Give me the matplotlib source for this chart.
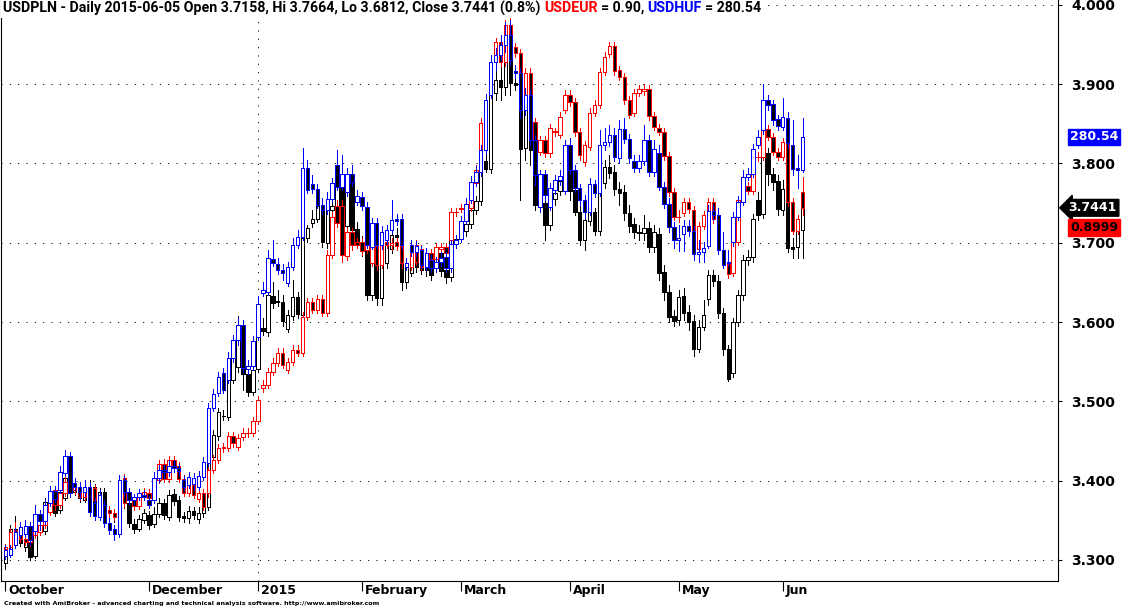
import matplotlib
matplotlib.use("Agg")
import matplotlib.pyplot as plt
import matplotlib.transforms as mtransforms
from matplotlib.patches import Rectangle
import numpy as np
import pandas as pd

# USDPLN daily, 2014-10-21 .. 2015-06-05
pln_open = [
    3.296, 3.312, 3.339, 3.336, 3.316, 3.322, 3.305, 3.338, 3.336, 3.370,
    3.375, 3.363, 3.378, 3.403, 3.386, 3.392, 3.376, 3.387, 3.392, 3.370,
    3.386, 3.361, 3.359, 3.354, 3.388, 3.372, 3.345, 3.339, 3.350, 3.356,
    3.345, 3.358, 3.372, 3.354, 3.383, 3.375, 3.355, 3.353, 3.361, 3.351,
    3.359, 3.367, 3.430, 3.456, 3.482, 3.480, 3.527, 3.543, 3.587, 3.534,
    3.512, 3.541, 3.592, 3.587, 3.633, 3.625, 3.625, 3.591, 3.608, 3.632,
    3.609, 3.706, 3.725, 3.730, 3.748, 3.700, 3.741, 3.746, 3.772, 3.721,
    3.782, 3.717, 3.701, 3.690, 3.634, 3.675, 3.630, 3.675, 3.692, 3.710,
    3.707, 3.650, 3.662, 3.691, 3.685, 3.670, 3.678, 3.668, 3.687, 3.666,
    3.657, 3.705, 3.706, 3.715, 3.724, 3.741, 3.753, 3.803, 3.793, 3.889,
    3.905, 3.897, 3.952, 3.902, 3.899, 3.820, 3.869, 3.817, 3.748, 3.750,
    3.722, 3.755, 3.765, 3.778, 3.793, 3.767, 3.739, 3.703, 3.728, 3.739,
    3.715, 3.775, 3.796, 3.789, 3.768, 3.764, 3.738, 3.724, 3.714, 3.712,
    3.719, 3.695, 3.711, 3.663, 3.638, 3.608, 3.603, 3.633, 3.613, 3.601,
    3.566, 3.594, 3.629, 3.659, 3.652, 3.611, 3.566, 3.536, 3.600, 3.634,
    3.678, 3.682, 3.754, 3.736, 3.813, 3.787, 3.778, 3.741, 3.768, 3.695,
    3.695, 3.7158,
]
pln_high = [
    3.319, 3.344, 3.355, 3.344, 3.327, 3.327, 3.340, 3.350, 3.378, 3.383,
    3.380, 3.391, 3.413, 3.413, 3.398, 3.397, 3.394, 3.401, 3.396, 3.391,
    3.391, 3.368, 3.363, 3.393, 3.394, 3.375, 3.351, 3.356, 3.364, 3.361,
    3.366, 3.378, 3.377, 3.388, 3.389, 3.380, 3.360, 3.368, 3.367, 3.366,
    3.380, 3.436, 3.464, 3.492, 3.489, 3.533, 3.562, 3.608, 3.595, 3.542,
    3.546, 3.586, 3.605, 3.640, 3.650, 3.640, 3.634, 3.615, 3.653, 3.638,
    3.729, 3.722, 3.741, 3.754, 3.754, 3.760, 3.754, 3.779, 3.782, 3.772,
    3.792, 3.726, 3.709, 3.696, 3.683, 3.681, 3.681, 3.703, 3.716, 3.719,
    3.714, 3.676, 3.697, 3.696, 3.691, 3.676, 3.685, 3.691, 3.693, 3.672,
    3.711, 3.710, 3.726, 3.729, 3.748, 3.759, 3.811, 3.817, 3.895, 3.918,
    3.928, 3.962, 3.979, 3.912, 3.905, 3.880, 3.880, 3.830, 3.760, 3.757,
    3.763, 3.769, 3.785, 3.804, 3.798, 3.773, 3.748, 3.735, 3.747, 3.744,
    3.782, 3.804, 3.811, 3.798, 3.777, 3.773, 3.748, 3.731, 3.722, 3.735,
    3.726, 3.722, 3.719, 3.672, 3.647, 3.615, 3.640, 3.643, 3.622, 3.609,
    3.603, 3.628, 3.666, 3.666, 3.659, 3.618, 3.571, 3.605, 3.640, 3.685,
    3.691, 3.736, 3.764, 3.823, 3.820, 3.794, 3.785, 3.779, 3.798, 3.706,
    3.726, 3.7664,
]
pln_low = [
    3.288, 3.310, 3.330, 3.317, 3.311, 3.300, 3.302, 3.331, 3.332, 3.367,
    3.355, 3.359, 3.375, 3.380, 3.382, 3.373, 3.373, 3.383, 3.358, 3.367,
    3.341, 3.354, 3.348, 3.350, 3.365, 3.341, 3.334, 3.336, 3.346, 3.339,
    3.341, 3.354, 3.351, 3.350, 3.369, 3.349, 3.348, 3.346, 3.351, 3.346,
    3.354, 3.363, 3.426, 3.451, 3.476, 3.476, 3.523, 3.537, 3.514, 3.507,
    3.508, 3.537, 3.584, 3.582, 3.618, 3.620, 3.595, 3.587, 3.603, 3.605,
    3.603, 3.701, 3.720, 3.726, 3.695, 3.693, 3.736, 3.721, 3.681, 3.714,
    3.710, 3.696, 3.683, 3.628, 3.628, 3.621, 3.621, 3.668, 3.687, 3.701,
    3.640, 3.643, 3.658, 3.663, 3.661, 3.658, 3.653, 3.663, 3.658, 3.649,
    3.652, 3.693, 3.701, 3.709, 3.719, 3.736, 3.748, 3.789, 3.788, 3.880,
    3.880, 3.886, 3.886, 3.893, 3.754, 3.804, 3.798, 3.741, 3.741, 3.703,
    3.716, 3.748, 3.760, 3.773, 3.754, 3.735, 3.697, 3.691, 3.722, 3.710,
    3.710, 3.769, 3.782, 3.760, 3.748, 3.729, 3.714, 3.706, 3.703, 3.703,
    3.688, 3.688, 3.653, 3.628, 3.600, 3.595, 3.596, 3.603, 3.590, 3.557,
    3.562, 3.590, 3.621, 3.645, 3.605, 3.558, 3.526, 3.531, 3.595, 3.628,
    3.672, 3.676, 3.729, 3.731, 3.773, 3.767, 3.735, 3.735, 3.688, 3.681,
    3.681, 3.6812,
]
pln_close = [
    3.314, 3.339, 3.334, 3.321, 3.322, 3.303, 3.335, 3.341, 3.373, 3.376,
    3.359, 3.386, 3.403, 3.384, 3.392, 3.378, 3.389, 3.392, 3.363, 3.386,
    3.346, 3.359, 3.354, 3.387, 3.372, 3.346, 3.339, 3.351, 3.359, 3.344,
    3.358, 3.372, 3.356, 3.382, 3.374, 3.354, 3.353, 3.361, 3.356, 3.359,
    3.375, 3.430, 3.457, 3.487, 3.481, 3.527, 3.555, 3.590, 3.534, 3.512,
    3.539, 3.581, 3.589, 3.634, 3.624, 3.626, 3.601, 3.609, 3.632, 3.610,
    3.706, 3.719, 3.730, 3.746, 3.701, 3.753, 3.746, 3.772, 3.688, 3.764,
    3.716, 3.701, 3.690, 3.634, 3.675, 3.630, 3.672, 3.697, 3.710, 3.707,
    3.650, 3.669, 3.691, 3.669, 3.666, 3.665, 3.659, 3.686, 3.664, 3.657,
    3.705, 3.702, 3.716, 3.724, 3.741, 3.753, 3.803, 3.793, 3.889, 3.905,
    3.897, 3.952, 3.902, 3.899, 3.818, 3.869, 3.817, 3.748, 3.751, 3.722,
    3.755, 3.763, 3.778, 3.793, 3.765, 3.739, 3.703, 3.729, 3.740, 3.715,
    3.776, 3.795, 3.788, 3.768, 3.763, 3.738, 3.721, 3.714, 3.712, 3.719,
    3.695, 3.714, 3.662, 3.638, 3.606, 3.601, 3.632, 3.611, 3.600, 3.566,
    3.594, 3.609, 3.659, 3.652, 3.611, 3.566, 3.528, 3.600, 3.634, 3.678,
    3.682, 3.730, 3.735, 3.813, 3.787, 3.777, 3.743, 3.768, 3.693, 3.692,
    3.716, 3.7441,
]

# USDEUR overlay
eur_open = [
    0.7924, 0.7930, 0.7984, 0.7975, 0.7955, 0.7946, 0.7968, 0.7978, 0.7999, 0.8040,
    0.8110, 0.8063, 0.8101, 0.8135, 0.8110, 0.8120, 0.8088, 0.8104, 0.8117, 0.8079,
    0.8063, 0.8047, 0.8037, 0.8110, 0.8148, 0.8104, 0.8085, 0.8060, 0.8091, 0.8101,
    0.8085, 0.8142, 0.8192, 0.8145, 0.8205, 0.8186, 0.8145, 0.8101, 0.8126, 0.8082,
    0.8101, 0.8101, 0.8173, 0.8205, 0.8243, 0.8243, 0.8280, 0.8246, 0.8277, 0.8291,
    0.8290, 0.8328, 0.8432, 0.8441, 0.8482, 0.8511, 0.8542, 0.8489, 0.8514, 0.8552,
    0.8542, 0.8656, 0.8703, 0.8678, 0.8713, 0.8668, 0.8852, 0.9006, 0.9006, 0.8848,
    0.8924, 0.8892, 0.8892, 0.8867, 0.8826, 0.8880, 0.8820, 0.8892, 0.8883, 0.8892,
    0.8880, 0.8814, 0.8814, 0.8883, 0.8870, 0.8820, 0.8858, 0.8839, 0.8870, 0.8877,
    0.8899, 0.8988, 0.8998, 0.8999, 0.8999, 0.9078, 0.9151, 0.9277, 0.9362, 0.9460,
    0.9523, 0.9460, 0.9577, 0.9508, 0.9489, 0.9312, 0.9425, 0.9271, 0.9176, 0.9214,
    0.9173, 0.9241, 0.9230, 0.9309, 0.9356, 0.9334, 0.9240, 0.9145, 0.9192, 0.9299,
    0.9325, 0.9429, 0.9486, 0.9511, 0.9435, 0.9413, 0.9340, 0.9299, 0.9362, 0.9369,
    0.9375, 0.9290, 0.9252, 0.9240, 0.9164, 0.9050, 0.8972, 0.8984, 0.9018, 0.8993,
    0.8870, 0.8943, 0.8977, 0.9018, 0.8965, 0.8867, 0.8823, 0.8795, 0.8892, 0.9025,
    0.9069, 0.9053, 0.9160, 0.9161, 0.9249, 0.9224, 0.9176, 0.9161, 0.9208, 0.9018,
    0.8927, 0.9050,
]
eur_high = [
    0.7939, 0.7990, 0.8009, 0.7987, 0.7965, 0.7978, 0.8003, 0.8015, 0.8053, 0.8085,
    0.8123, 0.8117, 0.8154, 0.8148, 0.8132, 0.8129, 0.8117, 0.8129, 0.8126, 0.8094,
    0.8079, 0.8060, 0.8050, 0.8154, 0.8161, 0.8117, 0.8098, 0.8107, 0.8117, 0.8113,
    0.8154, 0.8205, 0.8208, 0.8217, 0.8217, 0.8198, 0.8157, 0.8139, 0.8142, 0.8113,
    0.8113, 0.8186, 0.8220, 0.8255, 0.8258, 0.8293, 0.8293, 0.8287, 0.8306, 0.8306,
    0.8340, 0.8407, 0.8457, 0.8495, 0.8527, 0.8558, 0.8558, 0.8527, 0.8567, 0.8567,
    0.8672, 0.8716, 0.8716, 0.8725, 0.8725, 0.8867, 0.8987, 0.9025, 0.9025, 0.8937,
    0.8937, 0.8905, 0.8905, 0.8899, 0.8899, 0.8899, 0.8905, 0.8905, 0.8905, 0.8905,
    0.8892, 0.8842, 0.8899, 0.8899, 0.8883, 0.8870, 0.8870, 0.8889, 0.8889, 0.8889,
    0.8999, 0.8999, 0.9012, 0.9012, 0.9094, 0.9135, 0.9284, 0.9293, 0.9422, 0.9536,
    0.9536, 0.9593, 0.9599, 0.9520, 0.9501, 0.9441, 0.9441, 0.9284, 0.9227, 0.9227,
    0.9265, 0.9252, 0.9302, 0.9372, 0.9372, 0.9347, 0.9252, 0.9211, 0.9315, 0.9340,
    0.9441, 0.9492, 0.9523, 0.9523, 0.9448, 0.9426, 0.9353, 0.9375, 0.9388, 0.9391,
    0.9388, 0.9302, 0.9265, 0.9252, 0.9176, 0.9063, 0.8993, 0.9031, 0.9031, 0.9006,
    0.8955, 0.8990, 0.9031, 0.9031, 0.8977, 0.8880, 0.8836, 0.8905, 0.9037, 0.9082,
    0.9082, 0.9151, 0.9176, 0.9265, 0.9261, 0.9236, 0.9189, 0.9221, 0.9221, 0.9031,
    0.8977, 0.9097,
]
eur_low = [
    0.7915, 0.7924, 0.7959, 0.7946, 0.7936, 0.7933, 0.7959, 0.7968, 0.7990, 0.8031,
    0.8047, 0.8053, 0.8091, 0.8094, 0.8098, 0.8079, 0.8079, 0.8091, 0.8066, 0.8047,
    0.8041, 0.8025, 0.8015, 0.8098, 0.8056, 0.8069, 0.8047, 0.8050, 0.8082, 0.8072,
    0.8075, 0.8132, 0.8135, 0.8135, 0.8173, 0.8135, 0.8091, 0.8091, 0.8085, 0.8072,
    0.8047, 0.8088, 0.8164, 0.8195, 0.8230, 0.8233, 0.8246, 0.8236, 0.8268, 0.8277,
    0.8280, 0.8318, 0.8420, 0.8432, 0.8473, 0.8501, 0.8495, 0.8479, 0.8505, 0.8533,
    0.8533, 0.8646, 0.8668, 0.8668, 0.8659, 0.8659, 0.8842, 0.8940, 0.8829, 0.8836,
    0.8867, 0.8873, 0.8852, 0.8858, 0.8817, 0.8804, 0.8810, 0.8873, 0.8867, 0.8867,
    0.8810, 0.8804, 0.8804, 0.8820, 0.8804, 0.8810, 0.8829, 0.8829, 0.8861, 0.8848,
    0.8886, 0.8974, 0.8987, 0.8987, 0.8990, 0.9069, 0.9142, 0.9255, 0.9353, 0.9448,
    0.9448, 0.9448, 0.9508, 0.9476, 0.9353, 0.9302, 0.9299, 0.9167, 0.9167, 0.9161,
    0.9161, 0.9227, 0.9220, 0.9299, 0.9321, 0.9227, 0.9151, 0.9132, 0.9183, 0.9290,
    0.9315, 0.9419, 0.9476, 0.9419, 0.9403, 0.9328, 0.9284, 0.9290, 0.9353, 0.9356,
    0.9277, 0.9246, 0.9230, 0.9151, 0.9037, 0.8962, 0.8955, 0.8974, 0.8984, 0.8861,
    0.8861, 0.8933, 0.8968, 0.8952, 0.8855, 0.8810, 0.8779, 0.8785, 0.8883, 0.9015,
    0.9044, 0.9044, 0.9148, 0.9151, 0.9214, 0.9167, 0.9151, 0.9151, 0.9006, 0.8918,
    0.8918, 0.8977,
]
eur_close = [
    0.7930, 0.7978, 0.7975, 0.7955, 0.7946, 0.7968, 0.7990, 0.7999, 0.8040, 0.8069,
    0.8063, 0.8101, 0.8135, 0.8110, 0.8120, 0.8088, 0.8104, 0.8117, 0.8079, 0.8060,
    0.8053, 0.8037, 0.8025, 0.8139, 0.8069, 0.8082, 0.8060, 0.8094, 0.8104, 0.8085,
    0.8142, 0.8192, 0.8145, 0.8205, 0.8186, 0.8145, 0.8101, 0.8126, 0.8094, 0.8101,
    0.8056, 0.8173, 0.8205, 0.8243, 0.8246, 0.8280, 0.8258, 0.8274, 0.8290, 0.8289,
    0.8328, 0.8394, 0.8441, 0.8482, 0.8511, 0.8542, 0.8505, 0.8514, 0.8552, 0.8542,
    0.8656, 0.8703, 0.8678, 0.8713, 0.8668, 0.8852, 0.8971, 0.8952, 0.8852, 0.8924,
    0.8883, 0.8883, 0.8864, 0.8883, 0.8880, 0.8820, 0.8889, 0.8883, 0.8889, 0.8880,
    0.8826, 0.8826, 0.8883, 0.8829, 0.8814, 0.8858, 0.8839, 0.8877, 0.8877, 0.8858,
    0.8987, 0.8986, 0.9000, 0.9002, 0.9078, 0.9120, 0.9268, 0.9268, 0.9407, 0.9523,
    0.9460, 0.9577, 0.9520, 0.9489, 0.9366, 0.9425, 0.9312, 0.9183, 0.9214, 0.9173,
    0.9252, 0.9239, 0.9287, 0.9356, 0.9334, 0.9240, 0.9167, 0.9198, 0.9299, 0.9325,
    0.9429, 0.9476, 0.9511, 0.9432, 0.9413, 0.9340, 0.9293, 0.9362, 0.9375, 0.9376,
    0.9290, 0.9255, 0.9240, 0.9164, 0.9050, 0.8971, 0.8970, 0.9018, 0.8996, 0.8870,
    0.8943, 0.8977, 0.9018, 0.8965, 0.8867, 0.8823, 0.8792, 0.8892, 0.9025, 0.9069,
    0.9053, 0.9135, 0.9162, 0.9249, 0.9224, 0.9176, 0.9161, 0.9208, 0.9018, 0.8927,
    0.8965, 0.8999,
]

# USDHUF overlay
huf_open = [
    238.29, 238.39, 239.39, 240.39, 240.49, 241.29, 240.79, 242.49, 241.79, 243.59,
    244.79, 244.89, 246.59, 248.29, 245.59, 245.19, 244.69, 245.19, 243.59, 242.19,
    243.39, 241.59, 240.99, 240.49, 245.89, 244.69, 243.89, 244.19, 244.39, 243.89,
    243.89, 246.09, 246.89, 246.69, 247.29, 247.09, 245.89, 245.39, 245.49, 245.19,
    246.19, 247.59, 253.19, 254.69, 256.69, 255.99, 258.19, 260.08, 261.58, 257.09,
    257.39, 260.38, 264.78, 264.88, 268.18, 267.68, 267.08, 265.78, 267.38, 269.68,
    270.48, 277.38, 275.78, 275.28, 273.68, 273.18, 274.28, 277.68, 275.48, 274.98,
    276.78, 273.98, 274.48, 273.48, 269.48, 271.88, 269.68, 270.18, 271.18, 272.28,
    272.28, 267.38, 269.68, 268.88, 269.08, 267.38, 268.08, 267.28, 267.88, 268.38,
    267.28, 269.78, 270.28, 272.08, 274.18, 275.98, 276.98, 279.27, 284.77, 288.07,
    288.77, 289.84, 290.84, 287.17, 286.97, 283.27, 284.77, 280.27, 273.48, 276.78,
    273.48, 275.18, 276.18, 275.08, 279.77, 277.18, 275.38, 274.18, 272.98, 275.78,
    274.88, 279.77, 280.07, 280.77, 278.37, 281.37, 280.37, 278.08, 277.38, 278.08,
    280.27, 276.98, 278.97, 275.48, 273.78, 271.48, 270.18, 270.78, 271.58, 271.08,
    268.68, 268.88, 269.58, 273.08, 272.68, 269.08, 267.78, 269.98, 272.48, 273.98,
    276.48, 276.78, 279.77, 281.27, 284.27, 283.87, 282.37, 281.57, 282.47, 279.77,
    277.38, 277.18,
]
huf_high = [
    239.39, 239.39, 241.09, 241.69, 241.89, 241.69, 243.39, 242.89, 243.89, 245.29,
    245.29, 247.29, 248.89, 248.69, 246.09, 245.69, 245.89, 245.59, 244.09, 244.89,
    243.89, 242.09, 241.39, 246.39, 246.29, 245.09, 244.49, 244.99, 244.89, 244.29,
    246.69, 247.39, 247.39, 247.89, 247.89, 247.49, 246.29, 246.69, 246.59, 246.79,
    248.19, 253.69, 255.09, 256.79, 257.19, 258.79, 260.58, 262.28, 262.08, 257.99,
    260.48, 264.48, 265.88, 269.08, 270.18, 268.28, 267.68, 267.88, 270.38, 271.18,
    279.47, 278.18, 276.68, 275.78, 274.38, 274.98, 276.38, 279.18, 278.68, 277.38,
    277.68, 275.18, 274.98, 273.98, 272.38, 272.38, 271.58, 271.68, 274.18, 272.78,
    272.78, 268.28, 270.18, 270.08, 269.58, 269.28, 268.58, 268.38, 268.88, 268.88,
    270.18, 270.68, 272.58, 274.38, 276.58, 277.58, 279.77, 284.87, 288.77, 289.54,
    290.84, 292.14, 292.34, 287.77, 287.47, 285.47, 285.27, 280.77, 277.18, 277.18,
    275.88, 276.68, 277.18, 280.27, 280.47, 277.68, 275.78, 274.68, 276.38, 276.18,
    281.27, 281.47, 281.77, 281.47, 282.27, 282.47, 280.87, 278.67, 278.67, 281.77,
    280.77, 280.27, 279.77, 275.98, 274.38, 271.98, 271.68, 272.18, 272.18, 271.58,
    270.18, 269.98, 273.68, 273.68, 273.38, 270.98, 269.08, 272.98, 274.58, 277.18,
    277.38, 279.87, 281.27, 285.87, 284.77, 284.27, 282.77, 284.47, 283.07, 282.27,
    278.68, 282.47,
]
huf_low = [
    237.89, 238.09, 239.09, 240.09, 240.19, 239.39, 240.49, 240.89, 241.49, 243.29,
    243.69, 244.59, 246.29, 244.19, 244.89, 243.99, 244.29, 242.29, 241.89, 241.89,
    241.19, 240.49, 239.89, 240.19, 244.29, 243.49, 243.49, 243.89, 243.89, 243.09,
    243.59, 245.69, 246.09, 246.29, 246.69, 246.39, 244.89, 245.09, 244.89, 244.89,
    245.89, 247.29, 252.89, 254.39, 254.69, 255.69, 257.79, 259.58, 256.79, 256.59,
    256.99, 260.08, 264.48, 264.58, 267.48, 266.68, 266.08, 265.48, 267.08, 269.38,
    270.18, 274.88, 274.88, 273.38, 272.78, 272.78, 273.98, 275.18, 275.18, 274.58,
    275.58, 273.68, 273.18, 269.28, 269.18, 269.28, 269.18, 269.78, 270.88, 271.68,
    269.18, 267.08, 268.48, 268.48, 267.28, 267.08, 266.88, 266.88, 267.48, 266.88,
    266.88, 269.38, 269.98, 271.78, 273.88, 275.58, 276.58, 278.97, 284.47, 287.27,
    288.27, 289.14, 287.77, 286.47, 282.47, 282.77, 279.77, 275.68, 272.98, 274.18,
    273.18, 274.78, 275.68, 274.78, 276.78, 274.98, 273.68, 272.38, 272.68, 274.48,
    274.58, 279.27, 279.67, 278.08, 277.88, 279.97, 277.88, 276.98, 276.98, 277.68,
    276.58, 276.58, 275.18, 273.38, 270.98, 269.38, 268.98, 268.98, 270.58, 268.08,
    267.88, 267.88, 269.28, 272.18, 268.68, 267.28, 267.48, 269.58, 272.18, 273.68,
    276.18, 276.48, 279.47, 280.87, 283.27, 281.77, 281.27, 281.27, 279.47, 276.68,
    275.38, 276.98,
]
huf_close = [
    238.89, 238.99, 240.69, 241.19, 241.29, 239.89, 242.49, 241.79, 243.39, 244.79,
    243.99, 246.69, 248.29, 244.59, 245.19, 244.69, 245.19, 242.69, 242.29, 244.39,
    241.59, 240.89, 240.49, 245.89, 244.69, 243.89, 244.19, 244.59, 244.19, 243.39,
    246.09, 246.89, 246.69, 247.29, 247.09, 246.79, 245.19, 246.19, 246.09, 246.29,
    247.69, 253.19, 254.59, 256.29, 254.99, 258.19, 260.08, 261.58, 257.19, 257.39,
    259.98, 263.68, 265.08, 268.28, 267.78, 267.08, 266.78, 267.38, 269.68, 270.48,
    277.38, 275.18, 275.28, 273.68, 273.18, 274.28, 275.88, 275.48, 276.78, 276.78,
    275.98, 274.58, 273.58, 269.68, 271.88, 269.68, 270.98, 271.18, 272.18, 272.08,
    269.68, 267.78, 268.88, 269.58, 267.58, 268.78, 267.28, 267.88, 268.28, 267.28,
    269.78, 270.18, 272.08, 273.78, 275.98, 276.98, 279.27, 284.27, 288.07, 288.77,
    289.84, 290.84, 288.27, 286.97, 283.27, 284.77, 280.27, 276.68, 276.78, 274.68,
    275.38, 276.18, 276.58, 279.77, 277.18, 275.38, 274.18, 272.98, 275.78, 274.88,
    279.77, 280.07, 280.77, 278.47, 281.37, 280.37, 278.37, 277.38, 278.08, 280.27,
    276.98, 279.37, 275.48, 273.78, 271.48, 270.18, 270.38, 271.58, 271.08, 268.68,
    268.88, 269.38, 273.08, 272.68, 269.08, 267.58, 267.88, 272.48, 273.98, 276.48,
    276.78, 279.37, 280.57, 284.27, 283.77, 282.27, 281.67, 282.57, 279.97, 277.28,
    277.18, 280.54,
]

# trading days (no bars on Dec 25 and Jan 1)
dates = pd.bdate_range("2014-10-21", "2015-06-05")
dates = dates[~dates.isin(pd.to_datetime(["2014-12-25", "2015-01-01"]))]

# overlay scaling used by the chart: value = a * USDPLN + b
EUR_MAP = (0.25, -0.036)
HUF_MAP = (80.0, -26.14)

W, H = 1123, 609
BLUE = "#0000ff"
RED = "#ff0000"
PX = 72 / 100  # one pixel in points

fig = plt.figure(figsize=(W / 100, H / 100), dpi=100)
ax = fig.add_axes([0.5 / W, 28 / H, 1057 / W, 581 / H])
ax_eur = ax.twinx()
ax_huf = ax.twinx()
ax.yaxis.tick_right()

n = len(pln_close)
xs = np.arange(n)
ax.set_xlim(-1.0, 212.5)
ylo, yhi = 3.2732, 4.0063
ax.set_ylim(ylo, yhi)
ax_eur.set_ylim(ylo * EUR_MAP[0] + EUR_MAP[1], yhi * EUR_MAP[0] + EUR_MAP[1])
ax_huf.set_ylim(ylo * HUF_MAP[0] + HUF_MAP[1], yhi * HUF_MAP[0] + HUF_MAP[1])


def candles(a, o, h, l, c, color, z):
    o, h, l, c = (np.asarray(v, dtype=float) for v in (o, h, l, c))
    up = c >= o
    a.vlines(xs, l, h, color=color, linewidth=PX, zorder=z, antialiased=False)
    a.bar(xs, np.abs(c - o), bottom=np.minimum(o, c), width=0.7,
          color=np.where(up, "white", "black"), edgecolor=color,
          linewidth=PX, zorder=z + 0.1, antialiased=False)


candles(ax, pln_open, pln_high, pln_low, pln_close, "black", 3)
candles(ax_eur, eur_open, eur_high, eur_low, eur_close, RED, 3)
candles(ax_huf, huf_open, huf_high, huf_low, huf_close, BLUE, 3)

for a in (ax_eur, ax_huf):
    a.set_axis_off()
    a.set_xlim(ax.get_xlim())

# axes look
ax.spines["top"].set_visible(False)
for side in ("left", "right", "bottom"):
    ax.spines[side].set_linewidth(0.8)
yt = np.round(np.arange(3.3, 4.0001, 0.1), 1)
ax.set_yticks(yt)
ax.set_yticklabels([f"{v:.3f}" for v in yt], fontsize=10, fontweight="bold")
ax.tick_params(axis="y", direction="out", length=3, width=0.8, pad=7)
ax.grid(axis="y", color="black", linestyle=(0, (1, 7)), linewidth=0.75)

# month ticks
ticks, labels = [], []
for i in range(n):
    if i == 0 or dates[i].month != dates[i - 1].month:
        if ticks and i - ticks[-1] < 12:
            continue
        if dates[i].month == 1:
            lab = str(dates[i].year)
        elif n - i < 10:
            lab = dates[i].strftime("%b")
        else:
            lab = dates[i].strftime("%B")
        ticks.append(i)
        labels.append(lab)
ax.set_xticks(ticks)
ax.set_xticklabels(labels, fontsize=9, fontweight="bold")
ax.tick_params(axis="x", direction="out", length=7, width=0.8, pad=-5)
shift = mtransforms.ScaledTranslation(3 / 100, 0, fig.dpi_scale_trans)
for lab in ax.get_xticklabels():
    lab.set_horizontalalignment("left")
    lab.set_transform(lab.get_transform() + shift)

# year separator
year_start = [i for i in range(1, n) if dates[i].year != dates[i - 1].year]
for i in year_start:
    ax.axvline(i, color="black", linestyle=(0, (1, 7)), linewidth=0.75, zorder=1)

# value tags on the right
ax.annotate(f"{pln_close[-1]:.4f}", xy=(1, pln_close[-1]),
            xycoords=("axes fraction", "data"), xytext=(8, 0),
            textcoords="offset points", ha="left", va="center",
            color="white", fontsize=9, fontweight="bold", annotation_clip=False,
            bbox=dict(boxstyle="larrow,pad=0.15", fc="black", ec="black"))
ax_eur.annotate(f"{eur_close[-1]:.4f}", xy=(1, eur_close[-1]),
                xycoords=("axes fraction", "data"), xytext=(9, -14),
                textcoords="offset points", ha="left", va="center",
                color="black", fontsize=9, fontweight="bold", annotation_clip=False,
                bbox=dict(boxstyle="square,pad=0.15", fc=RED, ec=RED))
ax_huf.annotate(f"{huf_close[-1]:.2f}", xy=(1, huf_close[-1]),
                xycoords=("axes fraction", "data"), xytext=(9, 0),
                textcoords="offset points", ha="left", va="center",
                color="white", fontsize=9, fontweight="bold", annotation_clip=False,
                bbox=dict(boxstyle="square,pad=0.15", fc=BLUE, ec=BLUE))

# header line
chg = (pln_close[-1] / pln_close[-2] - 1) * 100
parts = [
    (f"USDPLN - Daily {dates[-1]:%Y-%m-%d} Open {pln_open[-1]:.4f}, Hi {pln_high[-1]:.4f}, "
     f"Lo {pln_low[-1]:.4f}, Close {pln_close[-1]:.4f} ({chg:.1f}%)", "black"),
    ("USDEUR", RED),
    (f"= {eur_close[-1]:.2f},", "black"),
    ("USDHUF", BLUE),
    (f"= {huf_close[-1]:.2f}", "black"),
]
TFONT = dict(family=["Roboto", "DejaVu Sans"], fontsize=10.2, fontweight="bold")
renderer = fig.canvas.get_renderer()
probe1 = fig.text(0, 0, "x x", **TFONT)
probe2 = fig.text(0, 0, "xx", **TFONT)
space = probe1.get_window_extent(renderer).width - probe2.get_window_extent(renderer).width
probe1.remove()
probe2.remove()
x = 3
for txt, col in parts:
    t = fig.text(x / W, 1 - 1 / H, txt, color=col, ha="left", va="top",
                 zorder=5, **TFONT)
    x = t.get_window_extent(renderer).x1 + space
# white strip behind the header so the grid dots do not show through
fig.patches.append(Rectangle((0.5 / W, 1 - 18 / H), (x - 1) / W, 18 / H,
                             transform=fig.transFigure, facecolor="white",
                             edgecolor="none", zorder=4))

fig.text(4 / W, 1 - 604 / H,
         "Created with AmiBroker - advanced charting and technical analysis software. "
         "http://www.amibroker.com",
         fontsize=4.6, fontweight="bold", va="center", ha="left")

fig.savefig("out.png", dpi=100)
